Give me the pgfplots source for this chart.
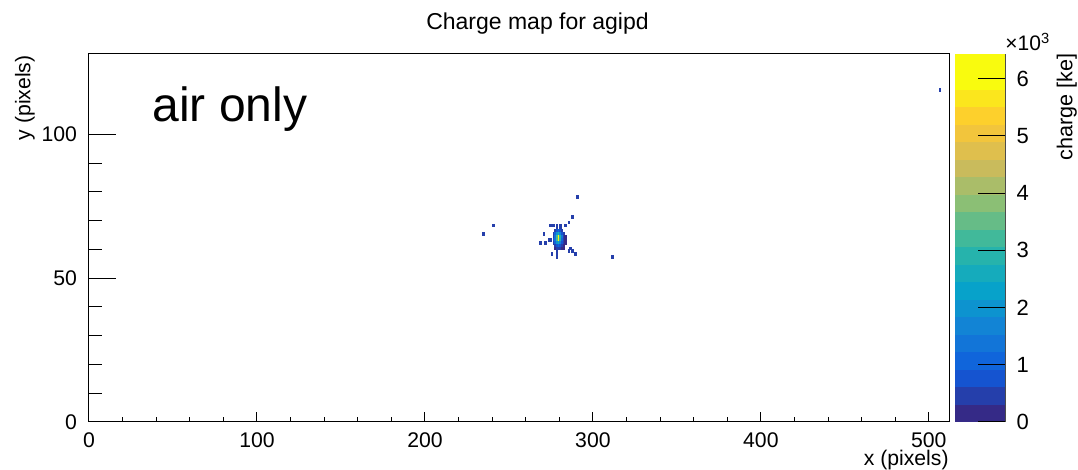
\documentclass[border=0pt]{standalone}
\usepackage{pgfplots}
\pgfplotsset{compat=1.18}
\usepackage{fontspec}
\setmainfont{Liberation Sans}
\pgfplotstableread{
x y c
234.5 65.5 450
240.5 68.5 400
268.5 62.5 450
270.5 65.5 500
271.5 62.5 450
273.5 63.5 500
274.5 63.5 450
274.5 68.5 500
275.5 68.5 500
276.5 68.5 500
278.5 68.5 450
280.5 68.5 400
283.5 68.5 400
278.5 67.5 450
280.5 67.5 450
285.5 69.5 400
287.5 71.5 400
290.5 78.5 400
275.5 58.5 400
278.5 59.5 500
278.5 58.5 500
278.5 57.5 500
285.5 59.5 400
286.5 60.5 400
287.5 59.5 400
289.5 58.5 400
311.5 57.5 450
506.5 115.5 450
277.5 66.5 450
278.5 66.5 800
279.5 66.5 1100
280.5 66.5 800
281.5 66.5 450
276.5 65.5 450
277.5 65.5 1000
278.5 65.5 2000
279.5 65.5 2600
280.5 65.5 1800
281.5 65.5 900
282.5 65.5 400
276.5 64.5 600
277.5 64.5 1400
278.5 64.5 3200
279.5 64.5 6430
280.5 64.5 3000
281.5 64.5 1300
282.5 64.5 500
283.5 64.5 300
276.5 63.5 700
277.5 63.5 1500
278.5 63.5 3300
279.5 63.5 5800
280.5 63.5 2900
281.5 63.5 1200
282.5 63.5 600
283.5 63.5 300
276.5 62.5 450
277.5 62.5 1200
278.5 62.5 2100
279.5 62.5 2500
280.5 62.5 1700
281.5 62.5 900
282.5 62.5 450
283.5 62.5 250
277.5 61.5 500
278.5 61.5 900
279.5 61.5 1000
280.5 61.5 800
281.5 61.5 500
282.5 61.5 300
277.5 60.5 300
278.5 60.5 450
279.5 60.5 400
280.5 60.5 350
281.5 60.5 300
282.5 60.5 250
}\chargedata
\begin{document}
\begin{tikzpicture}
\pgfplotsset{
  colormap={rootbird}{
    rgb=(0.2082,0.1664,0.5293)
    rgb=(0.1455,0.2479,0.6721)
    rgb=(0.0827,0.3293,0.8149)
    rgb=(0.0641,0.3979,0.8605)
    rgb=(0.0721,0.4586,0.8479)
    rgb=(0.0722,0.5186,0.8335)
    rgb=(0.0492,0.5766,0.8137)
    rgb=(0.0261,0.6347,0.7939)
    rgb=(0.0810,0.6699,0.7365)
    rgb=(0.1471,0.7018,0.6738)
    rgb=(0.2539,0.7244,0.6054)
    rgb=(0.4012,0.7376,0.5312)
    rgb=(0.5453,0.7483,0.4601)
    rgb=(0.6668,0.7414,0.4111)
    rgb=(0.7882,0.7345,0.3621)
    rgb=(0.8745,0.7497,0.3016)
    rgb=(0.9490,0.7721,0.2371)
    rgb=(0.9926,0.8173,0.1742)
    rgb=(0.9845,0.9002,0.1141)
    rgb=(0.9764,0.9832,0.0539)
    rgb=(0.9764,0.9832,0.0539)
  }
}
\begin{axis}[
  name=main,
  scale only axis,
  width=430pt, height=184pt,
  xmin=0, xmax=512, ymin=0, ymax=128,
  xtick={0,100,...,500}, ytick={0,50,100},
  minor x tick num=4, minor y tick num=4,
  tick pos=left, tick align=inside,
  xtick style={/pgfplots/major tick length=5pt, /pgfplots/minor tick length=2.5pt},
  ytick style={/pgfplots/major tick length=13.5pt, /pgfplots/minor tick length=6.5pt},
  tick style={black, line width=0.5pt},
  axis line style={black, line width=0.5pt},
  ticklabel style={font=\fontsize{10.6}{12}\selectfont},
  /pgf/number format/assume math mode=true,
  xticklabel style={yshift=-2pt},
  yticklabel style={xshift=-2.5pt},
  colormap name=rootbird,
  colormap access=piecewise constant,
  point meta min=0, point meta max=6430,
  colorbar,
  colorbar style={
    at={([xshift=3pt]parent axis.north east)}, anchor=north west, xshift=-5.5pt,
    scale only axis, width=25pt, height=184pt,
    ytick={0,1000,...,6000}, yticklabels={0,1,2,3,4,5,6},
    scaled y ticks=false,
    minor y tick num=0,
    ytick pos=right, yticklabel pos=right, tick align=inside,
    ytick style={/pgfplots/major tick length=13.5pt, black, line width=0.5pt},
    axis x line=none, axis y line*=right,
    axis line style={black!70, line width=0.5pt},
    ticklabel style={font=\fontsize{11}{12}\selectfont},
    /pgf/number format/assume math mode=true,
    yticklabel style={xshift=2.3pt},
  },
]
\addplot[scatter, only marks, scatter src=explicit,
  mark=square*, mark size=0.37pt,
  mark options={yscale=1.81, line width=0.1pt},
  scatter/use mapped color={draw=mapped color, fill=mapped color}]
  table[x=x, y=y, meta=c] {\chargedata};
\end{axis}
\node[anchor=base, inner sep=0, font=\fontsize{11.5}{14}\selectfont] at ([xshift=224.25pt, yshift=12pt]main.north west) {Charge map for agipd};
\node[anchor=base west, inner sep=0, font=\fontsize{24}{28}\selectfont] at ([xshift=31.5pt, yshift=-34pt]main.north west) {air only};
\node[anchor=base east, inner sep=0, font=\fontsize{10.6}{12}\selectfont] at ([yshift=-22pt]main.south east) {x (pixels)};
\node[rotate=90, anchor=base east, inner sep=0, font=\fontsize{10.6}{12}\selectfont] at ([xshift=-29.3pt, yshift=-0.5pt]main.north west) {y (pixels)};
\node[anchor=base west, inner sep=0, font=\fontsize{10.5}{12}\selectfont] at ([xshift=28pt, yshift=1.5pt]main.north east) {×10\textsuperscript{3}};
\node[rotate=90, anchor=base east, inner sep=0, font=\fontsize{10.8}{12}\selectfont] at ([xshift=61.7pt, yshift=0.5pt]main.north east) {charge [ke]};
\pgfresetboundingbox
\path ([xshift=-44.5pt, yshift=-24pt]main.south west) rectangle ([xshift=64.5pt, yshift=27pt]main.north east);
\end{tikzpicture}
\end{document}
